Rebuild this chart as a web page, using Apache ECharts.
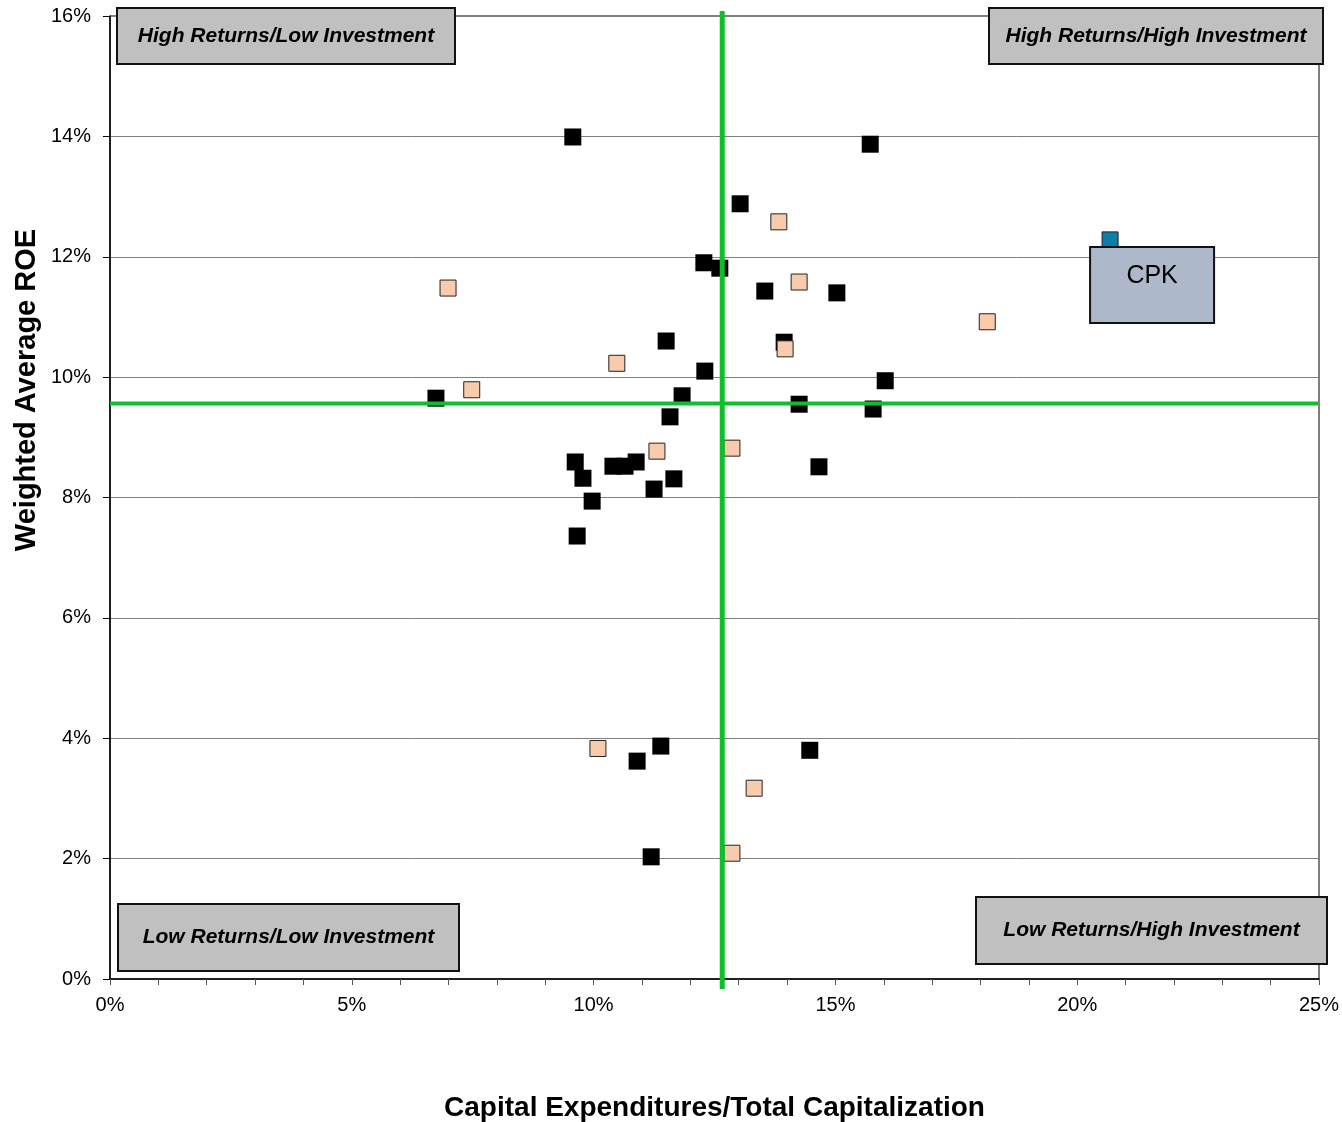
<!DOCTYPE html>
<html><head><meta charset="utf-8">
<script src="https://cdn.jsdelivr.net/npm/echarts@6/dist/echarts.min.js"></script>
<style>html,body{margin:0;padding:0;background:#fff}#c{width:1342px;height:1122px}</style>
</head><body><div id="c"></div>
<script>
// Capital expenditures / total capitalization (%), weighted average ROE (%)
const blackCompanies = [
  [9.57,13.99],[15.72,13.87],[13.03,12.88],[12.28,11.90],[12.61,11.81],[13.54,11.43],
  [15.03,11.40],[11.50,10.60],[13.94,10.58],[12.30,10.10],[16.03,9.94],[6.74,9.65],
  [11.83,9.69],[14.25,9.55],[15.78,9.47],[11.58,9.34],[9.62,8.59],[10.40,8.52],
  [10.65,8.52],[10.88,8.59],[9.78,8.32],[11.66,8.31],[11.25,8.14],[14.66,8.51],
  [9.97,7.94],[9.66,7.36],[11.39,3.87],[10.90,3.62],[14.47,3.80],[11.19,2.03]
];
const peachCompanies = [
  [6.99,11.48],[7.48,9.79],[10.48,10.23],[13.83,12.58],[14.25,11.58],[13.96,10.47],
  [11.31,8.77],[12.86,8.82],[18.14,10.92],[10.09,3.83],[13.32,3.17],[12.86,2.09]
];
const cpkPoint = [[20.68,12.28]];
const cpkLabel = 'CPK';
const refX = 12.66;   // average capex ratio
const refY = 9.56;    // average ROE
const xRange = [0, 25];
const yRange = [0, 16];
const quadrantTitles = [
  'High Returns/Low Investment',
  'High Returns/High Investment',
  'Low Returns/Low Investment',
  'Low Returns/High Investment'
];
const xTitle = 'Capital Expenditures/Total Capitalization';
const yTitle = 'Weighted Average ROE';

const FONT = "'Liberation Sans', Arial, Helvetica, sans-serif";
const chart = echarts.init(document.getElementById('c'), null, {renderer: 'canvas'});

const option = {
  animation: false,
  backgroundColor: '#fff',
  grid: {left: 110, right: 23, top: 16, bottom: 143, show: true, borderColor: '#000', borderWidth: 1,
         outerBoundsMode: 'none', containLabel: false},
  xAxis: {
    type: 'value', min: xRange[0], max: xRange[1], interval: 5,
    name: xTitle, nameLocation: 'middle', nameGap: 115,
    nameTextStyle: {fontFamily: FONT, fontWeight: 'bold', fontSize: 28, color: '#000'},
    axisLine: {show: true, lineStyle: {color: '#000', width: 1.5}},
    axisTick: {show: true, length: 6, lineStyle: {color: '#555'}},
    minorTick: {show: true, splitNumber: 5, length: 6, lineStyle: {color: '#555'}},
    splitLine: {show: false},
    axisLabel: {formatter: '{value}%', fontFamily: FONT, fontSize: 20, color: '#000', margin: 16}
  },
  yAxis: {
    type: 'value', min: yRange[0], max: yRange[1], interval: 2,
    axisLine: {show: true, lineStyle: {color: '#000', width: 1.5}},
    axisTick: {show: true, length: 7, lineStyle: {color: '#000'}},
    splitLine: {show: true, lineStyle: {color: '#808080', width: 1}},
    axisLabel: {formatter: '{value}%', fontFamily: FONT, fontSize: 20, color: '#000', margin: 19}
  },
  series: [
    {
      type: 'scatter', data: blackCompanies, symbol: 'rect', symbolSize: 17,
      itemStyle: {color: '#000', borderColor: '#000', borderWidth: 0, opacity: 1}, z: 3
    },
    {
      type: 'scatter', data: peachCompanies, symbol: 'rect', symbolSize: 16,
      itemStyle: {color: '#F8CBAD', borderColor: '#222', borderWidth: 1, opacity: 1}, z: 4
    },
    {
      type: 'scatter', data: cpkPoint, symbol: 'rect', symbolSize: 16,
      itemStyle: {color: '#0A7FA8', borderColor: '#222', borderWidth: 1, opacity: 1}, z: 4
    }
  ]
};
chart.setOption(option);

// Reference lines from the library's own scales
const pTop = chart.convertToPixel({gridIndex: 0}, [refX, yRange[1]]);
const pBot = chart.convertToPixel({gridIndex: 0}, [refX, yRange[0]]);
const pL = chart.convertToPixel({gridIndex: 0}, [xRange[0], refY]);
const pR = chart.convertToPixel({gridIndex: 0}, [xRange[1], refY]);
const cpkPx = chart.convertToPixel({gridIndex: 0}, cpkPoint[0]);
const GREEN = '#0CC02A';

function box(x, y, w, h, text, fill, font, ty) {
  return [
    {type: 'rect', z: 100, shape: {x: x, y: y, width: w, height: h},
     style: {fill: fill, stroke: '#111', lineWidth: 2}},
    {type: 'text', z: 101, x: x + w / 2, y: ty == null ? y + h / 2 : y + ty,
     style: {text: text, fill: '#000', font: font, align: 'center', verticalAlign: 'middle'}}
  ];
}
const qFont = "italic bold 21px " + FONT;
let graphics = [
  {type: 'line', z: 50, shape: {x1: pTop[0], y1: pTop[1] - 5, x2: pBot[0], y2: pBot[1] + 10},
   style: {stroke: GREEN, lineWidth: 5}},
  {type: 'line', z: 50, shape: {x1: pL[0], y1: pL[1], x2: pR[0] - 1, y2: pR[1]},
   style: {stroke: GREEN, lineWidth: 4}},
  {type: 'text', z: 101, x: 27, y: 390, rotation: Math.PI / 2,
   style: {text: yTitle, fill: '#000', font: "bold 29px " + FONT, align: 'center', verticalAlign: 'middle'}}
];
graphics = graphics
  .concat(box(117, 8, 338, 56, quadrantTitles[0], '#C0C0C0', qFont))
  .concat(box(989, 8, 334, 56, quadrantTitles[1], '#C0C0C0', qFont))
  .concat(box(118, 904, 341, 67, quadrantTitles[2], '#C0C0C0', qFont))
  .concat(box(976, 897, 351, 67, quadrantTitles[3], '#C0C0C0', qFont))
  .concat(box(cpkPx[0] - 20, cpkPx[1] + 7, 124, 76, cpkLabel, '#ADB9CA', "25px " + FONT, 29));
chart.setOption({graphic: graphics});
</script>
</body></html>
